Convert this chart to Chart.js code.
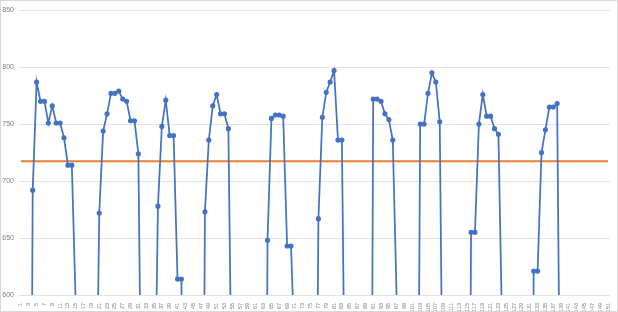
<!DOCTYPE html>
<html>
<head>
<meta charset="utf-8">
<script src="https://cdn.jsdelivr.net/npm/chart.js@4/dist/chart.umd.min.js"></script>
<style>
  body { margin: 0; background: #fff; }
  #wrap { width: 618px; height: 312px; box-sizing: border-box; border: 1px solid #d9d9d9; }
  #grafica { display: block; }
</style>
</head>
<body>
<div id="wrap"><canvas id="grafica" width="616" height="310"></canvas></div>
<script>
// Categorías del eje X (1..151)
const categorias = Array.from({ length: 151 }, (_, i) => String(i + 1));

// Valores de la serie (los que quedan por debajo de 600 no se ven en la gráfica)
const valores = [
    0, 0, 0, 692, 787, 770, 770, 751, 766, 751,
    751, 738, 714, 714, 590, 0, 0, 0, 0, 395,
    672, 744, 759, 777, 777, 779, 772, 770, 753, 753,
    724, 400, 0, 0, 443, 678, 748, 771, 740, 740,
    614, 614, 0, 0, 0, 0, 0, 673, 736, 766,
    776, 759, 759, 746, 460, 0, 0, 0, 0, 0,
    0, 0, 0, 648, 755, 758, 758, 757, 643, 643,
    544, 0, 0, 0, 0, 217, 667, 756, 778, 787,
    797, 736, 736, 420, 0, 0, 0, 0, 0, 0,
    772, 772, 770, 759, 754, 736, 595, 0, 0, 0,
    0, 173, 750, 750, 777, 795, 787, 752, 400, 0,
    0, 0, 0, 0, 0, 655, 655, 750, 776, 757,
    757, 746, 741, 557, 0, 0, 0, 0, 0, 0,
    0, 621, 621, 725, 745, 765, 765, 768, 378, 0,
    0, 0, 0, 0, 0, 0, 0, 0, 0, 0, 0
];

// Línea de referencia (naranja)
const referencia = 717.5;

// Marcas del eje Y
const ticksY = [600, 650, 700, 750, 800, 850];

const ctx = document.getElementById('grafica').getContext('2d');

const grafica = new Chart(ctx, {
    type: 'line',
    data: {
        labels: categorias,
        datasets: [{
            data: valores,
            borderColor: '#4472C4',
            backgroundColor: '#4472C4',
            borderWidth: 1.75,
            tension: 0,
            pointRadius: c => (c.raw >= 600 ? 1.7 : 0),
            pointHoverRadius: 0
        }, {
            data: [
                { x: categorias[0], y: referencia },
                { x: categorias[categorias.length - 1], y: referencia }
            ],
            borderColor: '#ED7D31',
            borderWidth: 2,
            pointRadius: 0
        }]
    },
    options: {
        responsive: false,
        animation: false,
        layout: { padding: { top: 4, right: 7, left: 0, bottom: 0 } },
        plugins: {
            legend: { display: false },
            tooltip: { enabled: false }
        },
        scales: {
            x: {
                offset: true,
                grid: { display: false },
                border: { display: false },
                afterFit: s => { s.height = 16; },
                ticks: {
                    autoSkip: false,
                    minRotation: 90,
                    maxRotation: 90,
                    padding: 0,
                    color: '#7f7f7f',
                    font: { family: 'Liberation Sans', size: 5.5 },
                    callback: (v, i) => (i % 2 === 0 ? categorias[i] : '')
                }
            },
            y: {
                min: ticksY[0],
                max: ticksY[ticksY.length - 1],
                afterBuildTicks: axis => { axis.ticks = ticksY.map(v => ({ value: v })); },
                afterFit: s => { s.width = 18; },
                grid: { color: '#e3e3e3', drawTicks: false },
                border: { display: false },
                ticks: {
                    padding: 5,
                    color: '#7f7f7f',
                    font: { family: 'Liberation Sans', size: 7 }
                }
            }
        }
    }
});
</script>
</body>
</html>
